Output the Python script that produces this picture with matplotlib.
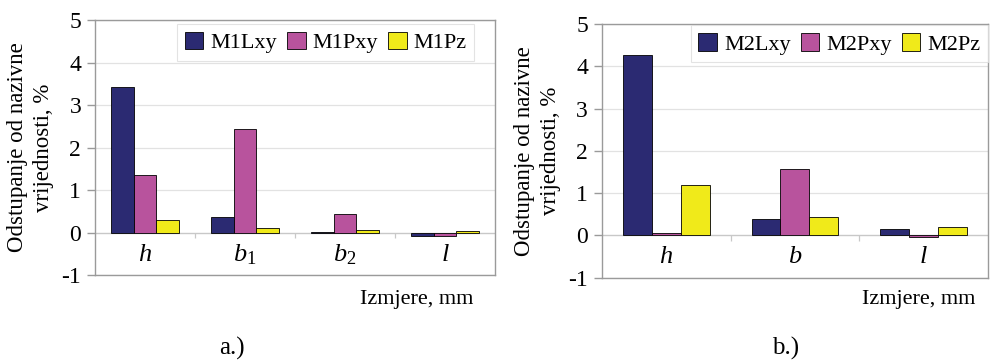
import matplotlib
matplotlib.use("Agg")
import matplotlib.pyplot as plt
import numpy as np

plt.rcParams['font.family'] = ['Liberation Serif', 'DejaVu Serif']
plt.rcParams['mathtext.fontset'] = 'custom'
plt.rcParams['mathtext.rm'] = 'Liberation Serif'
plt.rcParams['mathtext.it'] = 'Liberation Serif:italic'

# data
cats_a = [r'$h$', r'$b_1$', r'$b_2$', r'$l$']
m1lxy = [3.43, 0.37, 0.02, -0.09]
m1pxy = [1.35, 2.43, 0.44, -0.07]
m1pz = [0.29, 0.11, 0.07, 0.04]
names_a = ['M1Lxy', 'M1Pxy', 'M1Pz']

cats_b = [r'$h$', r'$b$', r'$l$']
m2lxy = [4.28, 0.39, 0.16]
m2pxy = [0.05, 1.56, -0.03]
m2pz = [1.20, 0.43, 0.20]
names_b = ['M2Lxy', 'M2Pxy', 'M2Pz']

colors = ['#2b2a72', '#b8539d', '#f0ea1a']
yticks = [-1, 0, 1, 2, 3, 4, 5]
fs = 15

fig = plt.figure(figsize=(9.9, 3.6), dpi=100)
ax1 = fig.add_axes([0.096, 0.236, 0.404, 0.708])
ax2 = fig.add_axes([0.608, 0.229, 0.390, 0.704])


def draw(ax, cats, series, names, leg_anchor, leg_loc):
    x = np.arange(len(cats))
    w = 0.225
    for i, (vals, name) in enumerate(zip(series, names)):
        ax.bar(x + (i - 1) * w, vals, width=w, color=colors[i],
               edgecolor='black', linewidth=0.6, label=name, zorder=3)
    ax.set_xlim(-0.5, len(cats) - 0.5)
    ax.set_ylim(-1, 5)
    ax.set_yticks(yticks)
    ax.set_yticklabels([str(t) for t in yticks], fontsize=fs + 2)
    ax.yaxis.grid(True, color='#e2e2e2', linewidth=0.9, zorder=0)
    ax.set_xticks([])
    ax.axhline(0, color='#c8c8c8', linewidth=0.9, zorder=2)
    ax.vlines(x[:-1] + 0.5, -0.13, 0, color='#c8c8c8', linewidth=0.9, zorder=2)
    for xi, c in zip(x, cats):
        ax.text(xi, -0.52, c, ha='center', va='center', fontsize=fs + 4)
    for s in ax.spines.values():
        s.set_color('#9a9a9a')
        s.set_linewidth(1.0)
    ax.tick_params(axis='y', length=6, width=1, color='#9a9a9a', pad=4)
    ax.set_ylabel('Odstupanje od nazivne\nvrijednosti, %', fontsize=fs + 1.5,
                  linespacing=1.35, labelpad=5)
    leg = ax.legend(loc=leg_loc, bbox_to_anchor=leg_anchor, ncol=3,
                    fontsize=fs + 1, frameon=True, fancybox=False,
                    handlelength=0.85, handleheight=0.85, handletextpad=0.3,
                    columnspacing=0.45, borderpad=0.35, borderaxespad=0)
    leg.get_frame().set_edgecolor('#dddddd')
    leg.get_frame().set_linewidth(0.8)


draw(ax1, cats_a, [m1lxy, m1pxy, m1pz], names_a, (0.948, 0.985), 'upper right')
draw(ax2, cats_b, [m2lxy, m2pxy, m2pz], names_b, (1.0, 0.995), 'upper right')

fig.text(0.478, 0.167, 'Izmjere, mm', ha='right', va='center', fontsize=fs + 1)
fig.text(0.985, 0.167, 'Izmjere, mm', ha='right', va='center', fontsize=fs + 1)
fig.text(0.234, 0.033, 'a.)', ha='center', va='center', fontsize=fs + 3)
fig.text(0.794, 0.033, 'b.)', ha='center', va='center', fontsize=fs + 3)

fig.savefig('out.png', dpi=100)
